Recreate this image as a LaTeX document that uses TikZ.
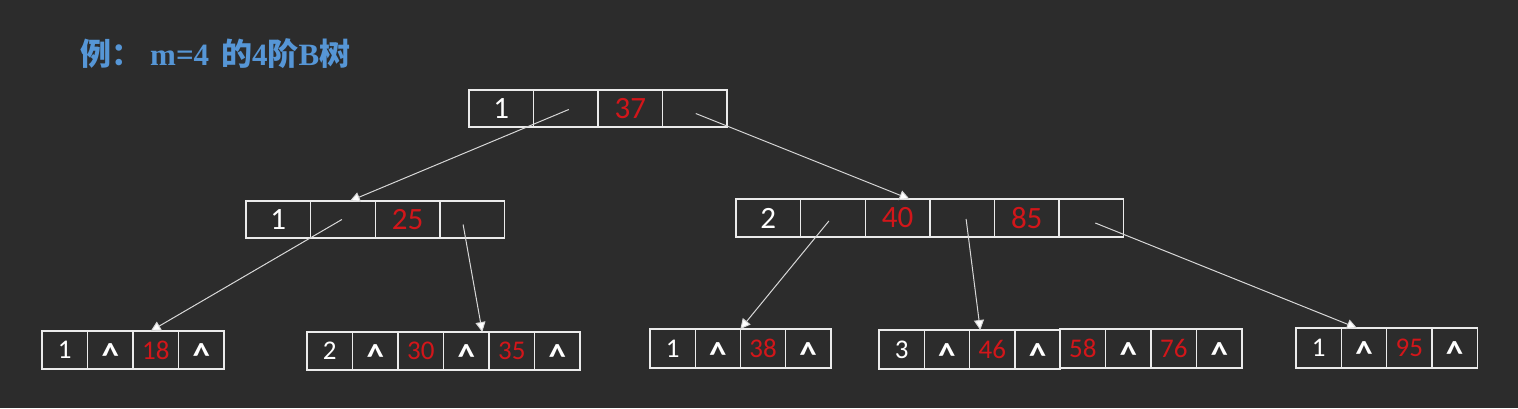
\documentclass[tikz,border=0pt]{standalone}
\usepackage{fontspec}
\setmainfont{Carlito}
\newfontfamily\cjk{Noto Sans CJK SC}
\newfontfamily\tserif{Liberation Serif}
\usetikzlibrary{arrows.meta}
\definecolor{board}{RGB}{44,44,44}
\definecolor{numred}{RGB}{210,22,26}
\definecolor{titleblue}{RGB}{86,150,214}
\definecolor{linegray}{RGB}{215,215,215}
\newcommand{\rn}[1]{\textcolor{numred}{#1}}
\newcommand{\wedgesym}{{\fontsize{35}{35}\selectfont\bfseries\raisebox{-0.37em}[0.30em][0.02em]{\textasciicircum}}}
\newcommand{\tsb}[1]{{\tserif\bfseries\fontsize{31}{31}\selectfont #1}}
\newcommand{\btrow}[7]{% name, x, y, cell width, height, font size, list
  \foreach \t [count=\i] in {#7} {
    \node[cell, minimum width=#4, minimum height=#5, font=\fontsize{#6}{#6}\selectfont, anchor=north west]
      (#1-\i) at ({#2+(\i-1)*#4}, #3) {\t};
  }
}
\tikzset{
  cell/.style={draw=white!92!black, line width=1.4pt, inner sep=0pt, outer sep=0pt, text=white},
  arr/.style={draw=linegray, line width=1pt, -{Triangle[length=10pt,width=10pt,fill=white]}},
}
\begin{document}
\begin{tikzpicture}[x=1pt,y=-1pt]
\useasboundingbox (0,0) rectangle (1518,408);
\fill[board] (0,0) rectangle (1518,408);
% title
\node[anchor=west, text=titleblue, inner sep=0pt] (title) at (80,54)
  {\cjk\bfseries\fontsize{31}{31}\selectfont 例：\hspace{8pt}\tsb{m=4}\hspace{12pt}的\tsb{4}阶\tsb{B}树};
% boxes
\btrow{rt}{469}{90}{64.5}{37}{31}{1,,\rn{37},}
\btrow{ml}{246}{201}{64.6}{37}{31}{1,,\rn{25},}
\btrow{mr}{736}{199}{64.6}{38}{31}{2,,\rn{40},,\rn{85},}
\btrow{la}{42}{331}{45.5}{38}{27}{1,\wedgesym,\rn{18},\wedgesym}
\btrow{lb}{307}{332}{45.5}{38}{27}{2,\wedgesym,\rn{30},\wedgesym,\rn{35},\wedgesym}
\btrow{lc}{650}{329}{45.2}{39}{27}{1,\wedgesym,\rn{38},\wedgesym}
\btrow{ld}{879}{330}{45.3}{39}{27}{3,\wedgesym,\rn{46},\wedgesym}
\btrow{le}{1060}{329}{45.5}{39}{27}{\rn{58},\wedgesym,\rn{76},\wedgesym}
\btrow{lf}{1296}{328}{45.3}{40}{27}{1,\wedgesym,\rn{95},\wedgesym}
% arrows
\draw[arr] ([shift={(3,1)}]rt-2.center) -- ([xshift=7pt]ml-2.north);
\draw[arr] ([shift={(1,5)}]rt-4.center) -- ([xshift=12pt]mr-3.north);
\draw[arr] ([shift={(-1,0)}]ml-2.center) -- ([xshift=-5pt]la-3.north);
\draw[arr] ([shift={(-9,5)}]ml-4.center) -- ([xshift=16pt]lb-4.north);
\draw[arr] ([shift={(-4,3)}]mr-2.center) -- (lc-2.north east);
\draw[arr] ([shift={(4,1)}]mr-4.center) -- ([xshift=-12pt]ld-3.north);
\draw[arr] ([shift={(4,5)}]mr-6.center) -- ([xshift=-7pt]lf-2.north);
\end{tikzpicture}
\end{document}
